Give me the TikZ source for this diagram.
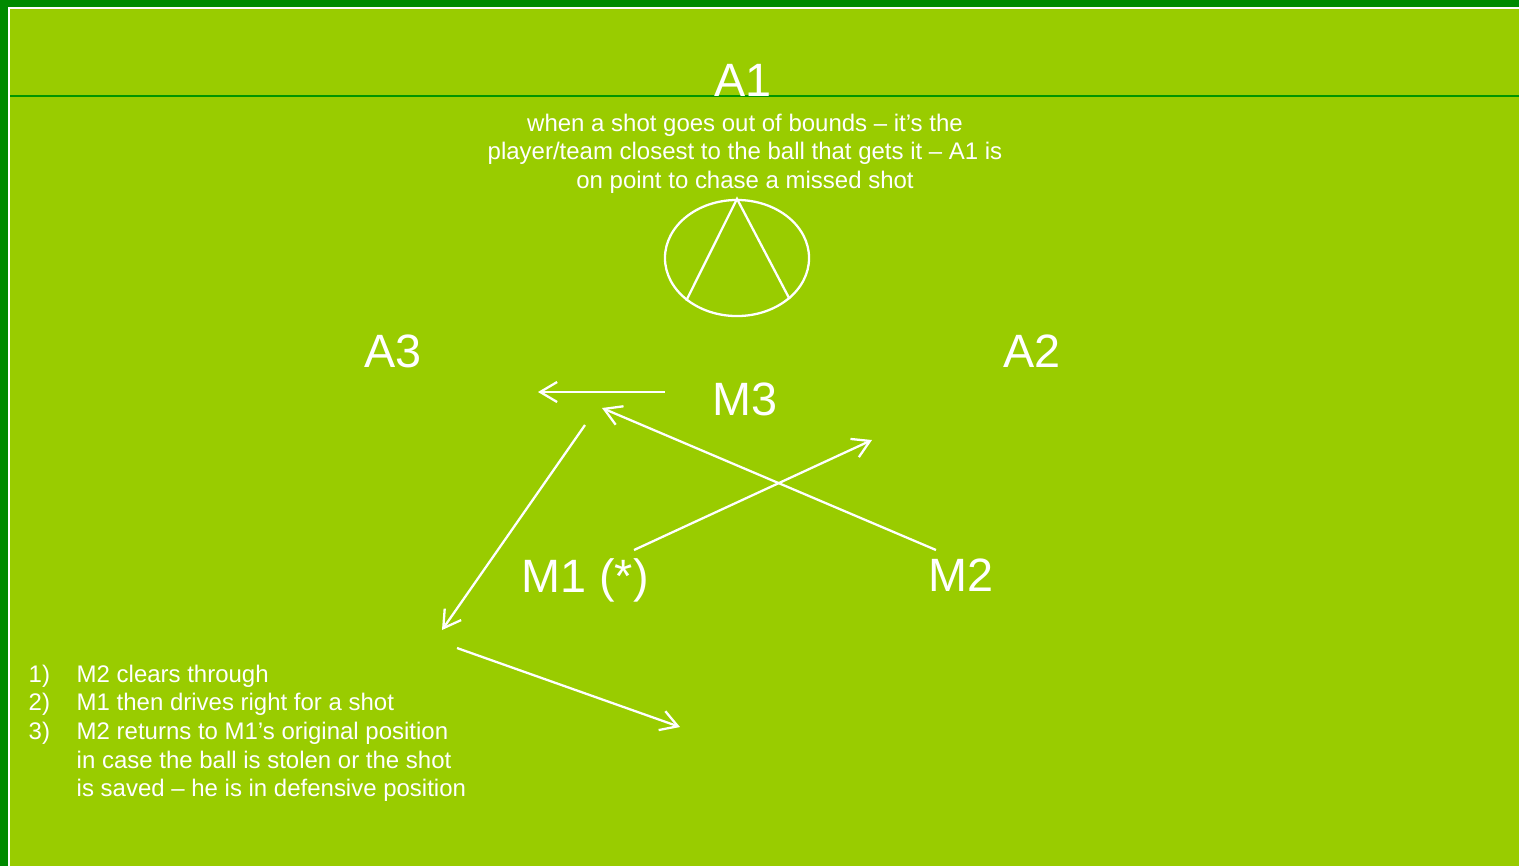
\documentclass[tikz,border=0pt]{standalone}
\usepackage{fontspec}
\setmainfont{Liberation Sans}
\usetikzlibrary{arrows.meta,shapes.geometric}
\definecolor{pitch}{HTML}{99CC00}
\definecolor{frame}{HTML}{008A00}
\definecolor{midline}{HTML}{009600}

\begin{document}
\begin{tikzpicture}[x=0.01cm,y=-0.01cm,
    player/.style={anchor=base,text=white,inner sep=0pt,font=\fontsize{13.3pt}{15pt}\selectfont},
    note/.style={text=white,inner sep=0pt,font=\fontsize{6.82pt}{8.15pt}\selectfont},
    move/.style={white,line width=0.65pt,-{Straight Barb[length=4.8pt,width=5.7pt]}},
    goal/.style={ellipse,draw=white,line width=0.65pt,minimum width=1.44cm,minimum height=1.16cm,inner sep=0pt}]

  % field
  \useasboundingbox (0,0) rectangle (1519,866);
  \fill[frame] (0,0) rectangle (1519,866);
  \fill[white] (8,7) rectangle (1519,866);
  \fill[pitch] (10,9) rectangle (1519,866);
  \draw[midline,line width=0.4pt] (10,96) -- (1519,96);

  % players
  \node[player] (a1) at (743,96) {A1};
  \node[player] (a3) at (393,367) {A3};
  \node[player] (a2) at (1032,367) {A2};
  \node[player] (m3) at (745,415) {M3};
  \node[player] (m1) at (585,592) {M1 (*)};
  \node[player] (m2) at (961,591) {M2};

  \node[note,align=center,anchor=north] (rule) at (745,113)
    {when a shot goes out of bounds – it’s the\\
     player/team closest to the ball that gets it – A1 is\\
     on point to chase a missed shot};

  % goal
  \node[goal] (goal) at (737,258) {};
  \draw[white,line width=0.65pt] (goal.220) -- (goal.north) -- (goal.322);

  % moves
  \coordinate (m3from) at (665,392);
  \coordinate (m3to)   at (538,392);
  \coordinate (m2from) at (936,550);
  \coordinate (m2to)   at (602,408);
  \coordinate (m1from) at (634,550);
  \coordinate (m1to)   at (872,440);
  \coordinate (backfrom) at (585,425);
  \coordinate (backto)   at (442,630);
  \coordinate (shotfrom) at (457,648);
  \coordinate (shotto)   at (680,727);

  \draw[move] (m3from) -- (m3to);
  \draw[move] (m2from) -- (m2to);
  \draw[move] (m1from) -- (m1to);
  \draw[move] (backfrom) -- (backto);
  \draw[move] (shotfrom) -- (shotto);

  \node[note,align=left,anchor=north west] (steps) at (28,664)
    {\makebox[0.48cm][l]{1)}M2 clears through\\
     \makebox[0.48cm][l]{2)}M1 then drives right for a shot\\
     \makebox[0.48cm][l]{3)}M2 returns to M1’s original position\\
     \hspace*{0.48cm}in case the ball is stolen or the shot\\
     \hspace*{0.48cm}is saved – he is in defensive position};

\end{tikzpicture}
\end{document}
